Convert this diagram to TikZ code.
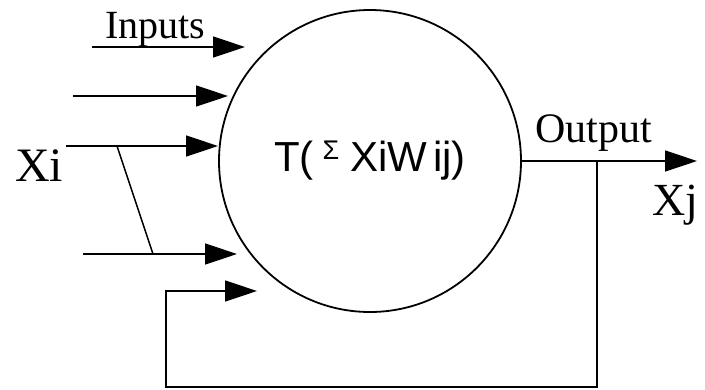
\documentclass[tikz,border=0pt]{standalone}
\usepackage{fontspec}
\setmainfont{Liberation Serif}
\newfontfamily\helv{Liberation Sans}
\usetikzlibrary{arrows.meta,positioning}
\tikzset{
  neurona/.style={
    circle,
    draw=black,
    line width=1.8pt,
    minimum size=302pt,
    inner sep=0pt,
    font=\helv\fontsize{42}{42}\selectfont
  },
  rotulo/.style={
    anchor=base west,
    inner sep=0pt,
    font=\fontsize{40}{40}\selectfont
  },
  arrow/.style={
    -{Triangle[length=32pt,width=21pt]},
    line width=1.5pt
  },
  linea/.style={
    line width=1.5pt
  }
}

\begin{document}
\begin{tikzpicture}[x=1pt,y=-1pt]
\useasboundingbox (0,0) rectangle (705,389);
% neuron and its sum
\node[neurona] (n) at (370,161) {T(\hspace{9pt}\raisebox{12pt}{\fontsize{27}{27}\selectfont Σ}\hspace{11pt}XiW\hspace{6pt}ij)};
% input ends
\coordinate (in1s) at (92,47);   \coordinate (in1e) at (245,47);
\coordinate (in2s) at (73,96);   \coordinate (in2e) at (228,96);
\coordinate (in3s) at (66,146);  \coordinate (in3e) at (218,146);
\coordinate (in4s) at (83,254);  \coordinate (in4e) at (237,254);
\coordinate (diagtop) at (117,146); \coordinate (diagbot) at (153,254);
% output and feedback
\coordinate (tap) at (597,161);  \coordinate (xjtip) at (697,161);
\coordinate (fbleft) at (166,387); \coordinate (fbtip) at (257,291);
\node[rotulo] (inputs) at (105,38) {Inputs};
\node[rotulo, font=\fontsize{48}{48}\selectfont] (xi) at (15,181) {Xi};
\node[rotulo, font=\fontsize{42}{42}\selectfont] (output) at (535,142) {Output};
\node[rotulo, font=\fontsize{46}{46}\selectfont] (xj) at (652,215) {Xj};
\draw[arrow] (in1s) -- (in1e);
\draw[arrow] (in2s) -- (in2e);
\draw[arrow] (in3s) -- (in3e);
\draw[arrow] (in4s) -- (in4e);
\draw[linea] (diagtop) -- (diagbot);
\draw[arrow] (n.east) -- (xjtip);
\draw[arrow] (tap) |- (fbleft) |- (fbtip);
\end{tikzpicture}
\end{document}
